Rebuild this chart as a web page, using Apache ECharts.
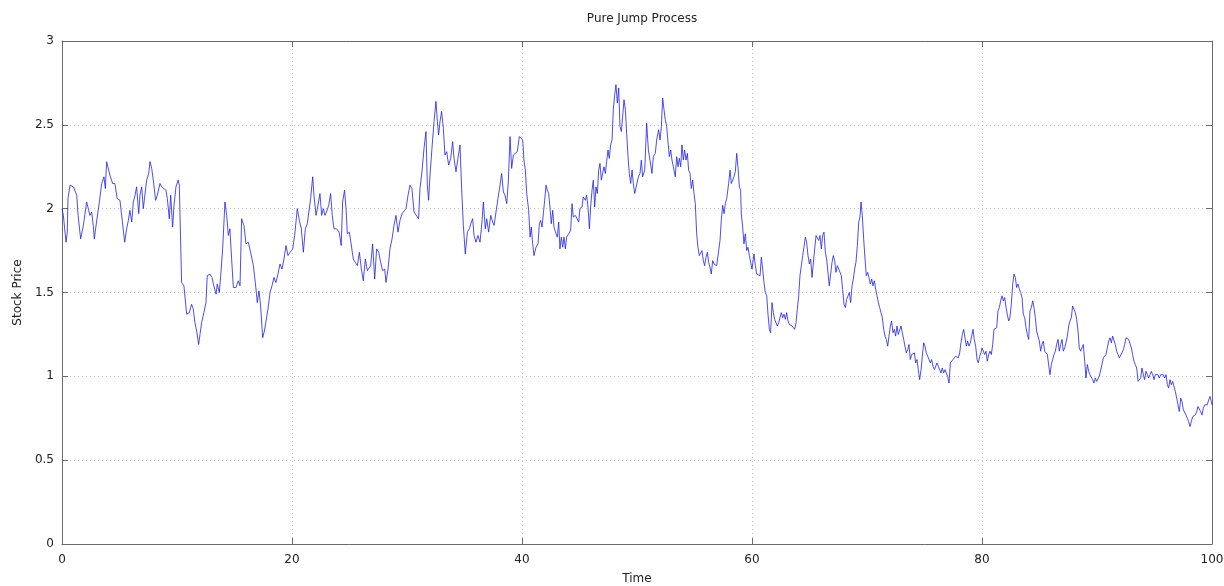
<!DOCTYPE html>
<html>
<head>
<meta charset="utf-8">
<script src="https://cdn.jsdelivr.net/npm/echarts@6/dist/echarts.min.js"></script>
<style>
html,body{margin:0;padding:0;background:#fff;overflow:hidden;}
#chart{width:1224px;height:586px;}
</style>
</head>
<body>
<div id="chart"></div>
<script>
var titleText = 'Pure Jump Process';
var xName = 'Time';
var yName = 'Stock Price';

var times = [
0,0.12,0.23,0.35,0.46,0.52,0.7,1.0,1.28,1.4,1.62,1.86,2.14,2.3,2.43,2.58,2.72,2.81,3.0,3.25,3.45,3.65,3.77,3.88,4.17,4.4,4.6,4.8,5.04,5.45,5.62,5.77,5.9,6.06,6.2,6.35,6.49,6.67,6.78,6.93,7.07,7.22,7.36,7.54,7.65,7.8,7.94,8.14,8.29,8.52,8.67,8.81,9.04,9.16,9.33,9.45,9.62,9.74,9.91,10.1,10.2,10.4,10.6,10.84,11.07,11.27,11.42,11.56,11.71,11.88,12.0,12.14,12.34,12.52,12.63,12.86,13.04,13.2,13.4,13.5,13.68,13.8,13.97,14.17,14.32,14.46,14.6,14.75,14.9,15.13,15.33,15.48,15.62,15.82,16.0,16.2,16.4,16.64,16.87,16.98,17.13,17.27,17.45,17.6,17.74,17.91,18.09,18.26,18.43,18.6,18.78,18.96,19.13,19.3,19.48,19.65,19.83,
20.06,20.23,20.46,20.64,20.81,20.99,21.16,21.33,21.5,21.62,21.8,21.91,22.09,22.26,22.43,22.58,22.72,22.87,23.0,23.19,23.36,23.5,23.65,23.88,24.1,24.28,24.4,24.57,24.7,24.81,24.99,25.16,25.33,25.5,25.68,25.86,26.03,26.2,26.38,26.55,26.72,26.84,27.01,27.19,27.36,27.54,27.71,27.88,28.06,28.17,28.35,28.52,28.7,28.87,29.04,29.22,29.39,29.57,29.74,29.91,30.09,30.26,30.43,30.61,30.78,31.01,31.13,31.3,31.48,31.65,31.77,31.88,32.0,32.17,32.35,32.52,32.64,32.75,32.87,33.01,33.16,33.3,33.45,33.62,33.8,33.97,34.09,34.26,34.43,34.61,34.75,34.9,35.07,35.25,35.42,35.59,35.71,35.83,36.0,36.17,36.35,36.52,36.64,36.81,36.93,37.1,37.28,37.45,37.57,37.74,37.91,38.09,38.23,38.38,38.52,38.67,38.81,38.96,39.1,39.25,39.42,39.59,39.77,39.94,
40.06,40.17,40.29,40.41,40.58,40.7,40.81,40.93,41.04,41.22,41.39,41.51,41.62,41.74,41.86,41.97,42.09,42.2,42.32,42.43,42.55,42.67,42.78,42.96,43.07,43.19,43.3,43.42,43.54,43.65,43.77,43.88,44.06,44.23,44.35,44.46,44.64,44.81,44.93,45.04,45.22,45.33,45.51,45.62,45.74,45.86,45.97,46.09,46.2,46.32,46.43,46.55,46.67,46.78,46.9,47.01,47.13,47.25,47.36,47.48,47.59,47.71,47.83,47.94,48.06,48.17,48.29,48.41,48.52,48.64,48.75,48.87,48.99,49.1,49.22,49.33,49.45,49.57,49.68,49.8,49.97,50.12,50.26,50.38,50.49,50.67,50.84,50.99,51.13,51.3,51.42,51.59,51.71,51.88,52.0,52.12,52.23,52.35,52.46,52.58,52.7,52.81,52.93,53.04,53.16,53.33,53.45,53.57,53.68,53.8,53.91,54.03,54.14,54.26,54.38,54.49,54.61,54.72,54.84,54.96,55.07,55.19,55.3,55.42,55.54,55.65,55.77,55.88,56.0,56.12,56.23,56.35,56.46,56.58,56.7,56.81,56.93,57.1,57.22,57.33,57.45,57.57,57.68,57.8,57.97,58.09,58.2,58.32,58.43,58.55,58.67,58.78,58.9,59.01,59.07,59.19,59.3,59.42,59.54,59.65,59.77,59.88,60.0,
60.06,60.17,60.29,60.41,60.58,60.7,60.81,60.93,61.04,61.16,61.28,61.39,61.51,61.62,61.74,61.86,61.97,62.09,62.2,62.32,62.43,62.55,62.67,62.78,62.9,63.01,63.13,63.25,63.36,63.48,63.59,63.71,63.83,63.94,64.06,64.17,64.29,64.41,64.52,64.64,64.75,64.87,64.99,65.1,65.22,65.33,65.45,65.57,65.68,65.8,65.91,66.03,66.14,66.26,66.38,66.49,66.61,66.72,66.84,66.96,67.07,67.19,67.3,67.42,67.54,67.65,67.77,67.88,68.0,68.12,68.23,68.35,68.46,68.58,68.7,68.81,68.93,69.04,69.16,69.28,69.39,69.48,69.59,69.71,69.83,69.94,70.06,70.17,70.29,70.41,70.52,70.64,70.75,70.87,70.99,71.1,71.22,71.33,71.45,71.57,71.68,71.8,71.91,72.03,72.14,72.26,72.38,72.49,72.61,72.72,72.84,72.96,73.07,73.19,73.3,73.42,73.54,73.65,73.77,73.88,74.0,74.12,74.23,74.35,74.46,74.58,74.7,74.81,74.93,75.04,75.16,75.28,75.39,75.51,75.62,75.74,75.86,75.97,76.09,76.2,76.32,76.43,76.55,76.67,76.78,76.9,77.01,77.13,77.25,77.36,77.48,77.59,77.71,77.83,77.94,78.06,78.17,78.29,78.41,78.52,78.64,78.75,78.87,78.99,79.1,79.22,79.33,79.45,79.57,79.68,79.8,79.91,
80.0,80.12,80.23,80.35,80.46,80.58,80.7,80.81,80.93,81.04,81.16,81.28,81.39,81.51,81.62,81.74,81.86,81.97,82.09,82.2,82.32,82.43,82.55,82.67,82.78,82.9,83.01,83.13,83.25,83.36,83.48,83.59,83.71,83.83,83.94,84.06,84.17,84.29,84.41,84.52,84.64,84.75,84.87,84.99,85.1,85.22,85.33,85.45,85.57,85.68,85.8,85.91,86.03,86.14,86.26,86.38,86.49,86.61,86.72,86.84,86.96,87.07,87.19,87.3,87.42,87.54,87.65,87.77,87.88,88.0,88.12,88.23,88.35,88.46,88.58,88.7,88.81,88.93,89.04,89.16,89.28,89.39,89.51,89.62,89.74,89.86,89.97,90.09,90.2,90.32,90.43,90.55,90.67,90.78,90.9,91.01,91.13,91.25,91.36,91.48,91.59,91.71,91.83,91.94,92.06,92.17,92.29,92.41,92.52,92.64,92.75,92.87,92.99,93.1,93.22,93.33,93.45,93.57,93.68,93.8,93.91,94.03,94.14,94.26,94.38,94.49,94.61,94.72,94.84,94.96,95.07,95.19,95.3,95.42,95.54,95.65,95.77,95.88,96.0,96.12,96.23,96.35,96.46,96.58,96.7,96.81,96.93,97.04,97.16,97.28,97.39,97.51,97.62,97.74,97.86,97.97,98.09,98.2,98.32,98.43,98.55,98.67,98.78,98.9,99.01,99.13,99.25,99.36,99.48,99.59,99.71,99.83,99.94,100.0
];

var prices = [
2.0,1.96,1.88,1.80,1.86,2.06,2.14,2.13,2.08,1.96,1.82,1.90,2.04,2.05,1.96,1.98,1.90,1.82,1.92,2.04,2.15,2.19,2.12,2.28,2.20,2.15,2.15,2.06,2.05,1.80,1.88,1.93,1.99,1.92,2.04,2.08,2.13,1.97,2.08,2.13,2.0,1.99,2.17,2.21,2.28,2.24,2.17,2.05,2.08,2.15,2.13,2.12,2.11,2.06,1.94,2.08,1.89,2.02,2.13,2.17,2.14,1.56,1.54,1.37,1.38,1.43,1.40,1.32,1.27,1.19,1.25,1.32,1.38,1.44,1.60,1.61,1.59,1.54,1.49,1.55,1.50,1.60,1.76,2.04,1.96,1.84,1.88,1.70,1.53,1.53,1.57,1.54,1.94,1.90,1.79,1.80,1.74,1.66,1.52,1.44,1.51,1.42,1.23,1.27,1.26,1.40,1.50,1.54,1.59,1.56,1.61,1.67,1.64,1.70,1.78,1.72,1.74,
1.76,1.84,2.0,1.93,1.88,1.74,1.88,1.91,1.90,2.06,2.19,2.08,1.96,2.02,2.09,1.96,2.0,1.96,1.98,2.02,2.09,1.96,1.88,1.88,1.86,1.78,2.04,2.11,2.0,1.85,1.86,1.87,1.70,1.68,1.66,1.74,1.64,1.57,1.70,1.63,1.62,1.66,1.79,1.58,1.76,1.74,1.68,1.63,1.64,1.56,1.64,1.76,1.82,1.90,1.96,1.86,1.93,1.97,1.98,2.0,2.08,2.14,2.12,1.98,1.97,1.94,2.12,2.22,2.36,2.46,2.14,2.05,2.20,2.36,2.52,2.64,2.52,2.44,2.52,2.58,2.48,2.32,2.34,2.26,2.30,2.40,2.30,2.22,2.30,2.38,2.12,1.90,1.73,1.86,1.88,1.92,1.94,1.84,1.80,1.84,1.80,1.92,2.04,1.88,1.94,1.86,1.96,1.92,1.90,1.98,2.06,2.14,2.21,2.10,2.08,2.03,2.16,2.43,2.24,2.32,2.31,2.34,2.43,2.42,
2.41,2.29,2.23,2.09,1.99,1.83,1.89,1.79,1.72,1.77,1.79,1.91,1.93,1.89,1.97,2.05,2.14,2.11,2.09,2.01,1.91,1.99,1.89,1.85,1.83,1.92,1.76,1.83,1.77,1.83,1.76,1.83,1.85,1.87,2.03,1.95,1.96,1.95,1.92,2.0,2.01,2.07,2.05,2.08,2.01,1.88,2.01,2.11,2.17,2.01,2.13,2.09,2.23,2.27,2.17,2.21,2.25,2.21,2.28,2.35,2.30,2.38,2.41,2.59,2.68,2.74,2.63,2.72,2.49,2.46,2.55,2.65,2.59,2.45,2.31,2.21,2.15,2.23,2.15,2.09,2.08,2.19,2.21,2.29,2.19,2.23,2.51,2.35,2.29,2.21,2.31,2.33,2.41,2.47,2.41,2.49,2.66,2.59,2.53,2.49,2.50,2.31,2.35,2.29,2.25,2.19,2.31,2.25,2.30,2.25,2.38,2.29,2.35,2.29,2.33,2.23,2.21,2.12,2.17,2.09,2.03,1.85,1.77,1.72,1.72,1.75,1.69,1.66,1.71,1.74,1.68,1.65,1.61,1.69,1.67,1.66,1.66,1.67,1.81,1.93,2.02,1.97,2.03,2.06,2.15,2.23,2.15,2.17,2.19,2.22,2.33,2.25,2.13,2.11,1.97,1.89,1.79,1.85,1.75,1.77,1.72,1.73,1.64,
1.63,1.73,1.66,1.61,1.62,1.60,1.71,1.64,1.56,1.50,1.48,1.37,1.28,1.26,1.44,1.38,1.34,1.35,1.30,1.32,1.31,1.38,1.35,1.37,1.34,1.38,1.33,1.31,1.32,1.30,1.31,1.28,1.32,1.40,1.48,1.60,1.66,1.72,1.77,1.83,1.80,1.72,1.67,1.70,1.59,1.58,1.76,1.84,1.85,1.81,1.84,1.76,1.84,1.86,1.74,1.70,1.69,1.54,1.53,1.68,1.72,1.69,1.62,1.66,1.64,1.65,1.60,1.52,1.43,1.41,1.46,1.48,1.50,1.44,1.54,1.58,1.64,1.68,1.78,1.92,1.95,2.04,1.96,1.82,1.70,1.60,1.62,1.59,1.55,1.58,1.54,1.57,1.52,1.48,1.44,1.41,1.38,1.35,1.28,1.24,1.22,1.18,1.24,1.30,1.33,1.26,1.28,1.24,1.30,1.25,1.24,1.30,1.26,1.22,1.18,1.14,1.16,1.19,1.10,1.13,1.12,1.14,1.08,1.10,1.04,0.98,1.04,1.12,1.20,1.18,1.14,1.12,1.10,1.08,1.10,1.06,1.04,1.03,1.08,1.06,1.04,1.02,1.05,1.02,1.04,1.03,1.0,0.96,1.08,1.09,1.10,1.11,1.12,1.13,1.11,1.14,1.20,1.25,1.28,1.23,1.18,1.21,1.18,1.20,1.24,1.28,1.22,1.18,1.10,1.08,1.12,1.14,
1.17,1.18,1.13,1.15,1.09,1.13,1.15,1.13,1.19,1.28,1.28,1.29,1.39,1.41,1.45,1.48,1.45,1.47,1.41,1.37,1.33,1.35,1.43,1.55,1.61,1.59,1.53,1.55,1.52,1.50,1.47,1.37,1.35,1.29,1.25,1.22,1.39,1.41,1.45,1.41,1.35,1.27,1.24,1.21,1.15,1.19,1.21,1.15,1.14,1.13,1.14,1.01,1.07,1.10,1.13,1.15,1.19,1.22,1.15,1.19,1.22,1.15,1.17,1.20,1.24,1.30,1.33,1.35,1.42,1.40,1.38,1.34,1.27,1.17,1.15,1.17,1.19,1.09,0.99,1.07,1.03,1.01,1.02,0.98,0.96,0.99,0.97,0.98,1.0,1.01,1.07,1.11,1.10,1.13,1.17,1.21,1.23,1.20,1.24,1.23,1.19,1.15,1.13,1.11,1.12,1.14,1.16,1.19,1.23,1.24,1.22,1.21,1.17,1.13,1.09,1.07,1.05,0.97,0.96,0.99,1.05,1.01,0.98,1.03,1.01,0.99,1.01,1.03,1.01,0.98,1.01,1.02,1.01,0.99,1.01,1.0,1.01,0.99,1.01,0.95,0.93,0.98,0.95,0.97,0.98,0.91,0.87,0.83,0.79,0.87,0.85,0.80,0.81,0.77,0.75,0.73,0.70,0.73,0.76,0.76,0.77,0.79,0.82,0.81,0.79,0.77,0.81,0.83,0.84,0.83,0.86,0.88,0.85,0.83
];

var xTicks = [0, 20, 40, 60, 80, 100];
var yTicks = [0, 0.5, 1, 1.5, 2, 2.5, 3];

var seriesData = times.map(function (t, i) { return [t, prices[i]]; });

var chart = echarts.init(document.getElementById('chart'), null, {renderer: 'canvas'});
var font = 'DejaVu Sans';
var frameColor = '#6a6a6a';
var gridStyle = {show: true, lineStyle: {color: '#c8c8c8', type: [1, 3], width: 1}};
var xMin = xTicks[0], xMax = xTicks[xTicks.length - 1], xInt = xTicks[1] - xTicks[0];
var yMin = yTicks[0], yMax = yTicks[yTicks.length - 1], yInt = yTicks[1] - yTicks[0];

chart.setOption({
  animation: false,
  backgroundColor: '#ffffff',
  title: {
    text: titleText, left: 637, top: 8, textAlign: 'center',
    textStyle: {fontFamily: font, fontSize: 12, fontWeight: 'normal', color: '#222'}
  },
  grid: {left: 62, right: 12, top: 41, bottom: 42, containLabel: false, outerBoundsMode: 'none'},
  xAxis: [{
    type: 'value', min: xMin, max: xMax, interval: xInt,
    name: xName, nameLocation: 'middle', nameGap: 29,
    nameTextStyle: {fontFamily: font, fontSize: 12, color: '#222'},
    axisLine: {show: true, onZero: false, lineStyle: {color: frameColor, width: 1}},
    axisTick: {show: true, inside: true, length: 6, lineStyle: {color: frameColor}},
    axisLabel: {fontFamily: font, fontSize: 12, color: '#222', margin: 10},
    splitLine: gridStyle
  }, {
    type: 'value', position: 'top', min: xMin, max: xMax, interval: xInt,
    axisLine: {show: true, onZero: false, lineStyle: {color: frameColor, width: 1}},
    axisTick: {show: true, inside: true, length: 6, lineStyle: {color: frameColor}},
    axisLabel: {show: false}, splitLine: {show: false}
  }],
  yAxis: [{
    type: 'value', min: yMin, max: yMax, interval: yInt,
    name: yName, nameLocation: 'middle', nameGap: 38, nameRotate: 90,
    nameTextStyle: {fontFamily: font, fontSize: 12, color: '#222'},
    axisLine: {show: true, onZero: false, lineStyle: {color: frameColor, width: 1}},
    axisTick: {show: true, inside: true, length: 6, lineStyle: {color: frameColor}},
    axisLabel: {fontFamily: font, fontSize: 12, color: '#222', margin: 8},
    splitLine: gridStyle
  }, {
    type: 'value', position: 'right', min: yMin, max: yMax, interval: yInt,
    axisLine: {show: true, onZero: false, lineStyle: {color: frameColor, width: 1}},
    axisTick: {show: true, inside: true, length: 6, lineStyle: {color: frameColor}},
    axisLabel: {show: false}, splitLine: {show: false}
  }],
  series: [{
    type: 'line', xAxisIndex: 0, yAxisIndex: 0,
    data: seriesData, showSymbol: false, symbol: 'none',
    lineStyle: {color: '#2020e8', width: 0.8},
    silent: true
  }]
});
</script>
</body>
</html>
